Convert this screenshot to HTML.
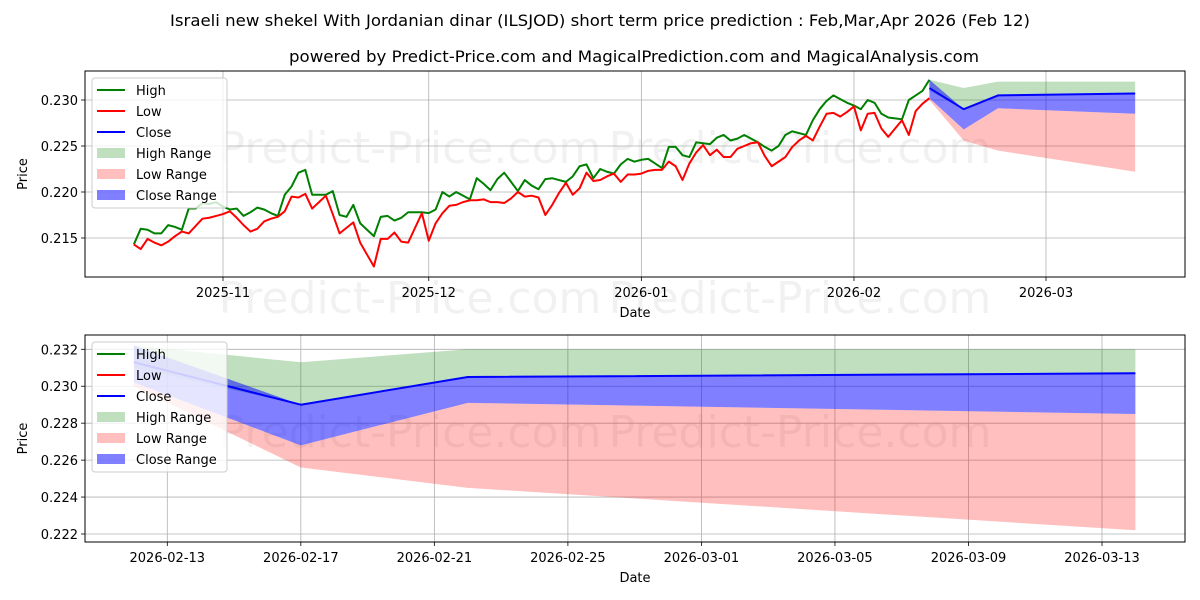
<!DOCTYPE html>
<html><head><meta charset="utf-8"><style>
html,body{margin:0;padding:0;background:#fff}
svg{display:block;font-family:"DejaVu Sans","Liberation Sans",sans-serif}
</style></head><body>
<svg id="chart" width="1200" height="600" viewBox="0 0 1200 600" xmlns="http://www.w3.org/2000/svg">
<rect width="1200" height="600" fill="#fff"/>
<defs>
<clipPath id="clipTop"><rect x="85" y="71" width="1100" height="206"/></clipPath>
<clipPath id="clipBot"><rect x="85" y="335" width="1100" height="207"/></clipPath>
</defs>
<text x="600" y="26" text-anchor="middle" font-size="16" textLength="860" lengthAdjust="spacingAndGlyphs">Israeli new shekel With Jordanian dinar (ILSJOD) short term price prediction : Feb,Mar,Apr 2026 (Feb 12)</text>
<text x="634" y="62" text-anchor="middle" font-size="16" textLength="690" lengthAdjust="spacingAndGlyphs">powered by Predict-Price.com and MagicalPrediction.com and MagicalAnalysis.com</text>
<g fill="#000" fill-opacity="0.055" font-size="44" text-anchor="middle">
<text x="410" y="163">Predict-Price.com</text><text x="800" y="163">Predict-Price.com</text>
<text x="410" y="313">Predict-Price.com</text><text x="800" y="313">Predict-Price.com</text>
<text x="410" y="447">Predict-Price.com</text><text x="800" y="447">Predict-Price.com</text>
</g>
<g id="top"></g>
<g id="bot"></g>
</svg>
<script>
const histStart = "2025-10-19";
const highVals = [0.2143,0.2160,0.2159,0.2155,0.2155,0.2164,0.2162,0.2159,0.2182,0.2182,0.2188,0.2187,0.2189,0.2184,0.2181,0.2182,0.2174,0.2178,0.2183,0.2181,0.2177,0.2174,0.2197,0.2206,0.2221,0.2224,0.2197,0.2197,0.2197,0.2201,0.2175,0.2173,0.2186,0.2166,0.2159,0.2152,0.2173,0.2174,0.2169,0.2172,0.2178,0.2178,0.2178,0.2177,0.2181,0.2200,0.2195,0.2200,0.2196,0.2192,0.2215,0.2209,0.2202,0.2214,0.2221,0.2211,0.2201,0.2213,
0.2207,0.2203,0.2214,0.2215,0.2213,0.2211,0.2217,0.2228,0.2230,0.2215,0.2225,0.2222,0.2220,0.2230,0.2236,0.2233,0.2235,0.2236,0.2231,0.2226,0.2249,0.2249,0.2240,0.2238,0.2254,0.2253,0.2252,0.2259,0.2262,0.2256,0.2258,0.2262,0.2258,0.2254,0.2249,0.2245,0.2250,0.2262,0.2266,0.2264,0.2262,0.2278,0.2290,0.2299,0.2305,0.2301,0.2297,0.2294,0.2290,0.2300,0.2297,0.2285,0.2281,0.2280,0.2279,0.2300,0.2305,0.2310,0.2322];
const lowVals = [0.2143,0.2138,0.2149,0.2145,0.2142,0.2146,0.2152,0.2157,0.2155,0.2163,0.2171,0.2172,0.2174,0.2176,0.2179,0.2172,0.2164,0.2157,0.2160,0.2168,0.2171,0.2173,0.2179,0.2195,0.2194,0.2198,0.2182,0.2189,0.2196,0.2176,0.2155,0.2161,0.2167,0.2145,0.2132,0.2119,0.2149,0.2149,0.2156,0.2146,0.2145,0.2161,0.2177,0.2147,0.2166,0.2177,0.2185,0.2186,0.2189,0.2191,0.2191,0.2192,0.2189,0.2189,0.2188,0.2193,0.2200,0.2195,
0.2196,0.2194,0.2175,0.2186,0.2199,0.2210,0.2197,0.2204,0.2221,0.2212,0.2213,0.2217,0.2220,0.2211,0.2219,0.2219,0.2220,0.2223,0.2224,0.2224,0.2233,0.2228,0.2213,0.2231,0.2243,0.2251,0.2240,0.2246,0.2238,0.2238,0.2247,0.2250,0.2253,0.2254,0.2239,0.2228,0.2233,0.2238,0.2249,0.2256,0.2261,0.2256,0.2271,0.2285,0.2286,0.2282,0.2287,0.2293,0.2267,0.2285,0.2286,0.2269,0.2260,0.2269,0.2278,0.2262,0.2288,0.2296,0.2302];
const fcDates = ["2026-02-12","2026-02-17","2026-02-22","2026-03-14"];
const fcClose = [0.2313,0.2290,0.2305,0.2307];
const fcHighUpper = [0.2322,0.2313,0.2320,0.2320];
const fcHighLower = [0.2310,0.2290,0.2305,0.2307];
const fcCloseUpper = [0.2322,0.2290,0.2305,0.2307];
const fcCloseLower = [0.2302,0.2268,0.2291,0.2285];
const fcLowUpper = [0.2302,0.2268,0.2291,0.2285];
const fcLowLower = [0.2300,0.2256,0.2245,0.2222];
const topXTicks = ["2025-11-01","2025-12-01","2026-01-01","2026-02-01","2026-03-01"];
const topXLabels = ["2025-11","2025-12","2026-01","2026-02","2026-03"];
const topYTicks = [0.215,0.220,0.225,0.230];
const botXTicks = ["2026-02-13","2026-02-17","2026-02-21","2026-02-25","2026-03-01","2026-03-05","2026-03-09","2026-03-13"];
const botYTicks = [0.222,0.224,0.226,0.228,0.230,0.232];

const NS="http://www.w3.org/2000/svg";
const DAY=86400000;
const T=s=>Date.parse(s+"T00:00:00Z");
function mk(parent,tag,attrs,txt){const e=document.createElementNS(NS,tag);for(const k in attrs)e.setAttribute(k,attrs[k]);if(txt!==undefined)e.textContent=txt;parent.appendChild(e);return e;}
const histDates=highVals.map((v,i)=>T(histStart)+i*DAY);
const fcT=fcDates.map(T);

function panel(g,box,clip,xs,xp,ys,yp,xTicks,xLabels,yTicks,yDec,showHist){
  const X=t=>xp[0]+(t-xs[0])/(xs[1]-xs[0])*(xp[1]-xp[0]);
  const Y=v=>yp[0]+(v-ys[0])/(ys[1]-ys[0])*(yp[1]-yp[0]);
  xTicks.forEach((d,i)=>{const x=X(T(d));
    const ln=mk(g,'line',{x1:x,x2:x,y1:box.t,y2:box.b,stroke:'#b0b0b0','stroke-width':0.8});
    
    
    mk(g,'line',{x1:x,x2:x,y1:box.b,y2:box.b+4,stroke:'#000','stroke-width':0.8});
    const tx=mk(g,'text',{x:x,y:box.b+20,'text-anchor':'middle','font-size':13},xLabels[i]);
    
    
  });
  yTicks.forEach(v=>{const y=Y(v);
    const ln=mk(g,'line',{x1:box.l,x2:box.r,y1:y,y2:y,stroke:'#b0b0b0','stroke-width':0.8});
    
    
    mk(g,'line',{x1:box.l-4,x2:box.l,y1:y,y2:y,stroke:'#000','stroke-width':0.8});
    const tx=mk(g,'text',{x:box.l-7,y:y+5,'text-anchor':'end','font-size':13},v.toFixed(yDec));
    
    
  });
  const cg=mk(g,'g',{'clip-path':`url(#${clip})`});
  function band(up,lo,fill,name){
    let d='';fcT.forEach((t,i)=>d+=(i?'L':'M')+X(t)+','+Y(up[i]));
    for(let i=fcT.length-1;i>=0;i--)d+='L'+X(fcT[i])+','+Y(lo[i]);
    const p=mk(cg,'path',{d:d+'Z',fill:fill});
    
    
  }
  band(fcHighUpper,fcHighLower,'rgba(0,128,0,0.25)','high-range-band');
  band(fcLowUpper,fcLowLower,'rgba(255,0,0,0.25)','low-range-band');
  band(fcCloseUpper,fcCloseLower,'rgba(0,0,255,0.5)','close-range-band');
  function line(ts,vs,col,name){
    const p=mk(cg,'polyline',{points:ts.map((t,i)=>X(t)+','+Y(vs[i])).join(' '),fill:'none',stroke:col,'stroke-width':2,'stroke-linejoin':'round'});
    
    
  }
  if(showHist){line(histDates,highVals,'#008000','high-line');line(histDates,lowVals,'#ff0000','low-line');}
  line(fcT,fcClose,'#0000ff','close-line');
  const fr=mk(g,'rect',{x:box.l,y:box.t,width:box.r-box.l,height:box.b-box.t,fill:'none',stroke:'#000','stroke-width':1});
  
  
  const xl=mk(g,'text',{x:(box.l+box.r)/2,y:box.b+40,'text-anchor':'middle','font-size':13},'Date');
  
  
  const yl=mk(g,'text',{x:0,y:0,'text-anchor':'middle','font-size':13,transform:`translate(27,${(box.t+box.b)/2}) rotate(-90)`},'Price');
  
  
  const lg=mk(g,'g',{});
  
  
  const lx=box.l+7,ly=box.t+7;
  mk(lg,'rect',{x:lx,y:ly,width:135,height:130,rx:3,fill:'rgba(255,255,255,0.8)',stroke:'#ccc'});
  const items=[['High','line','#008000'],['Low','line','#ff0000'],['Close','line','#0000ff'],['High Range','box','rgba(0,128,0,0.25)'],['Low Range','box','rgba(255,0,0,0.25)'],['Close Range','box','rgba(0,0,255,0.5)']];
  items.forEach((it,i)=>{const y=ly+12+i*21;
    const e=mk(lg,'g',{});
    
    
    if(it[1]==='line')mk(e,'line',{x1:lx+5,x2:lx+33,y1:y,y2:y,stroke:it[2],'stroke-width':2});
    else mk(e,'rect',{x:lx+5,y:y-5,width:28,height:10,fill:it[2]});
    mk(e,'text',{x:lx+44,y:y+5,'font-size':13},it[0]);
  });
}
panel(document.getElementById('top'),{l:85,r:1185,t:71,b:277},'clipTop',[T("2025-11-01"),T("2026-03-01")],[223,1046],[0.215,0.230],[238,100],topXTicks,topXLabels,topYTicks,3,true);
panel(document.getElementById('bot'),{l:85,r:1185,t:335,b:542},'clipBot',[T("2026-02-13"),T("2026-03-13")],[167.3,1102],[0.222,0.232],[534,349.3],botXTicks,botXTicks,botYTicks,3,false);
</script>
</body></html>
